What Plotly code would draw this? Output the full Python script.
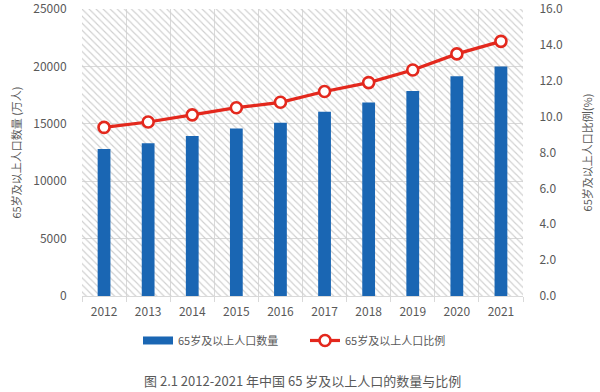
import plotly.graph_objects as go

years = ["2012", "2013", "2014", "2015", "2016", "2017", "2018", "2019", "2020", "2021"]
population = [12800, 13300, 13950, 14600, 15100, 16050, 16850, 17850, 19150, 20000]
ratio = [9.4, 9.7, 10.1, 10.5, 10.8, 11.4, 11.9, 12.6, 13.5, 14.2]
left_max = 25000
right_max = 16
bar_name = "65岁及以上人口数量"
line_name = "65岁及以上人口比例"
left_title = "65岁及以上人口数量 (万人)"
right_title = "65岁及以上人口比例(%)"
caption = "图 2.1 2012-2021 年中国 65 岁及以上人口的数量与比例"

FONT = "Noto Sans CJK SC"
GRAY = "#595959"
GRID = "#d9d9d9"
BLUE = "#1a66b3"
RED = "#e3281d"

fig = go.Figure()
# hatched plot-area background
fig.add_trace(go.Bar(
    x=years, y=[left_max] * len(years), width=1,
    marker=dict(color="#cfcfcf", line=dict(width=0),
                pattern=dict(shape="\\", size=5, solidity=0.22, fillmode="replace")),
    showlegend=False, hoverinfo="skip", yaxis="y"))
fig.add_trace(go.Bar(
    x=years, y=population, width=0.29, name=bar_name, showlegend=False,
    marker=dict(color=BLUE, line=dict(width=0)), yaxis="y"))
# legend entry for bars drawn as a wide rectangle
fig.add_trace(go.Scatter(
    x=[None], y=[None], name=bar_name, mode="lines", yaxis="y",
    line=dict(color=BLUE, width=8)))
fig.add_trace(go.Scatter(
    x=years, y=ratio, name=line_name, mode="lines+markers", yaxis="y2",
    line=dict(color=RED, width=3.2),
    marker=dict(symbol="circle", size=11, color="white",
                line=dict(color=RED, width=2.6))))

fig.update_layout(
    width=600, height=392,
    margin=dict(l=82, r=77, t=9, b=96, autoexpand=False),
    paper_bgcolor="white", plot_bgcolor="white",
    barmode="overlay",
    font=dict(family=FONT, size=12, color=GRAY),
    xaxis=dict(type="category", range=[-0.5, len(years) - 0.5],
               tickson="boundaries", ticks="outside", ticklen=5,
               tickcolor=GRID, showgrid=True, gridcolor=GRID, gridwidth=1.3,
               showline=True, linecolor=GRID, linewidth=1.3,
               ticklabelstandoff=4, ticklabeloverflow="allow",
               tickfont=dict(size=12, color=GRAY)),
    yaxis=dict(range=[0, left_max * 1.0002], tickvals=list(range(0, left_max + 1, 5000)),
               tickformat="d", showgrid=True, gridcolor=GRID,
               gridwidth=1.3, zeroline=False, showline=False,
               ticks="outside", ticklen=12, tickcolor="rgba(0,0,0,0)",
               ticklabeloverflow="allow", tickfont=dict(size=12, color=GRAY),
               title=dict(text=left_title, standoff=9, font=dict(size=11, color=GRAY)),
               automargin=False),
    yaxis2=dict(range=[0, right_max * 1.0002], tickvals=list(range(0, right_max + 1, 2)),
                tickformat=".1f", overlaying="y",
                side="right", showgrid=False, zeroline=False, showline=False,
                ticks="outside", ticklen=13, tickcolor="rgba(0,0,0,0)",
                ticklabeloverflow="allow", tickfont=dict(size=12, color=GRAY),
                title=dict(text=right_title, standoff=22, font=dict(size=11, color=GRAY)),
                automargin=False),
    legend=dict(orientation="h", x=(138 - 82) / 441, xanchor="left", y=-0.155, yanchor="middle",
                font=dict(size=11, color=GRAY), tracegroupgap=0,
                entrywidth=122, entrywidthmode="pixels",
                bgcolor="rgba(0,0,0,0)"),
    annotations=[dict(text=caption, xref="paper", yref="paper", x=0.5, y=-0.296,
                      xanchor="center", yanchor="middle", showarrow=False,
                      font=dict(size=13, color=GRAY))],
)

fig.write_html("out.html", config={"displayModeBar": False},
               post_script="document.body.style.margin='0';")
